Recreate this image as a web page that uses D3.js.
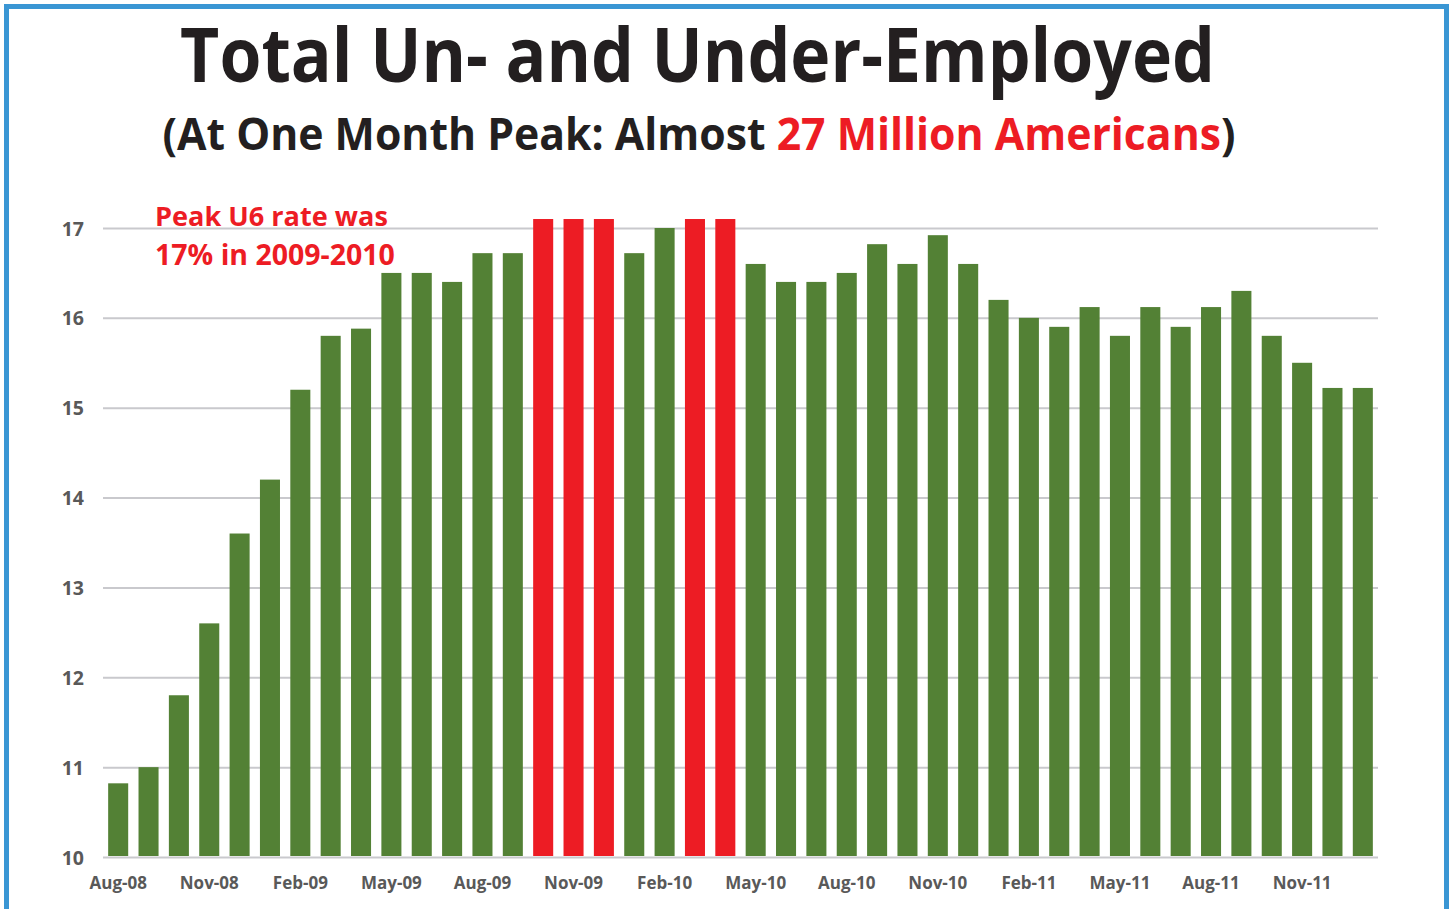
<!DOCTYPE html>
<html>
<head>
<meta charset="utf-8">
<script src="https://cdn.jsdelivr.net/npm/d3@7"></script>
<style>
  body { margin: 0; background: #fff; }
  svg text { font-family: "Open Sans", "Noto Sans", sans-serif; font-weight: bold; }
</style>
</head>
<body>
<script>
var months = ["Aug-08","Sep-08","Oct-08","Nov-08","Dec-08",
    "Jan-09","Feb-09","Mar-09","Apr-09","May-09","Jun-09","Jul-09","Aug-09","Sep-09","Oct-09","Nov-09","Dec-09",
    "Jan-10","Feb-10","Mar-10","Apr-10","May-10","Jun-10","Jul-10","Aug-10","Sep-10","Oct-10","Nov-10","Dec-10",
    "Jan-11","Feb-11","Mar-11","Apr-11","May-11","Jun-11","Jul-11","Aug-11","Sep-11","Oct-11","Nov-11","Dec-11",
    "Jan-12"];
var u6Rate = [10.82, 11.0, 11.8, 12.6, 13.6,
    14.2, 15.2, 15.8, 15.88, 16.5, 16.5, 16.4, 16.72, 16.72, 17.1, 17.1, 17.1,
    16.72, 17.0, 17.1, 17.1, 16.6, 16.4, 16.4, 16.5, 16.82, 16.6, 16.92, 16.6,
    16.2, 16.0, 15.9, 16.12, 15.8, 16.12, 15.9, 16.12, 16.3, 15.8, 15.5, 15.22,
    15.22];
var peakMonths = ["Oct-09","Nov-09","Dec-09","Mar-10","Apr-10"];
var xTickLabels = months.filter(function(d, i) { return i % 3 === 0; });
var yTicks = [10, 11, 12, 13, 14, 15, 16, 17];

var W = 1452, H = 909;
var green = "#538135", red = "#ed1c24", ink = "#231f20", axisInk = "#595959";

var svg = d3.select("body").append("svg")
    .attr("width", W)
    .attr("height", H);

svg.append("rect")
    .attr("x", 6.5).attr("y", 6.5)
    .attr("width", 1440).attr("height", 940)
    .attr("fill", "none")
    .attr("stroke", "#3a96d4")
    .attr("stroke-width", 5);

// fit a text element to a target width by scaling its font size
function fitWidth(sel, target) {
    var fs = parseFloat(sel.style("font-size"));
    var w = sel.node().getComputedTextLength();
    sel.style("font-size", (fs * target / w) + "px");
}

// title glyphs are narrower in the original, so stretch a bit vertically
var title = svg.append("text")
    .attr("transform", "translate(697.5,82) scale(1,1.1)")
    .attr("text-anchor", "middle")
    .attr("fill", ink)
    .style("font-size", "70px")
    .text("Total Un- and Under-Employed");
fitWidth(title, 1035);

var sub = svg.append("text")
    .attr("transform", "translate(699,150) scale(1,1.06)")
    .attr("text-anchor", "middle")
    .attr("fill", ink)
    .style("font-size", "44px");
sub.append("tspan").text("(At One Month Peak: Almost ");
sub.append("tspan").attr("fill", red).text("27 Million Americans");
sub.append("tspan").text(")");
fitWidth(sub, 1073);

var x = d3.scaleBand()
    .domain(months)
    .range([103, 1378])
    .paddingInner(0.34)
    .paddingOuter(0.17);

var y = d3.scaleLinear()
    .domain([10, 17])
    .range([857, 228]);

var yAxis = svg.append("g")
    .attr("transform", "translate(103,0)")
    .call(d3.axisLeft(y).tickValues(yTicks).tickSize(-1275).tickPadding(19).tickFormat(d3.format("d")));
yAxis.select(".domain").remove();
yAxis.selectAll(".tick line")
    .attr("stroke", "#c9c9cd")
    .attr("stroke-width", 2);
yAxis.selectAll(".tick text")
    .attr("fill", axisInk)
    .style("font-size", "19.5px")
    .attr("dy", "0.36em");

svg.selectAll(".bar")
    .data(months)
    .enter()
    .append("rect")
    .attr("class", "bar")
    .attr("x", d => x(d))
    .attr("width", x.bandwidth())
    .attr("y", (d, i) => y(u6Rate[i]))
    .attr("height", (d, i) => y(10) - y(u6Rate[i]) - 1)
    .attr("fill", d => peakMonths.indexOf(d) >= 0 ? red : green);

var xAxis = svg.append("g")
    .attr("transform", "translate(0,857)")
    .call(d3.axisBottom(x).tickValues(xTickLabels).tickSize(0));
xAxis.select(".domain").remove();
xAxis.selectAll(".tick text")
    .attr("y", 32)
    .attr("dy", "0")
    .attr("fill", axisInk)
    .style("font-size", "17px");

var note = ["Peak U6 rate was", "17% in 2009-2010"];
var noteWidths = [233, 240];
svg.selectAll(".note")
    .data(note)
    .enter()
    .append("text")
    .attr("class", "note")
    .attr("x", 155)
    .attr("y", (d, i) => 226 + i * 39)
    .attr("fill", red)
    .style("font-size", "26px")
    .text(d => d)
    .each(function(d, i) { fitWidth(d3.select(this), noteWidths[i]); });
</script>
</body>
</html>
